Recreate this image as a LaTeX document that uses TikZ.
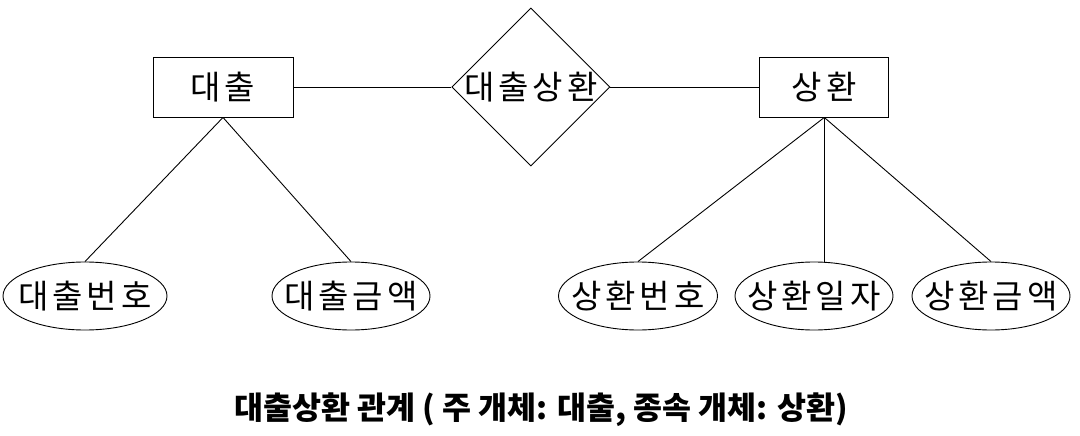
\documentclass[tikz,border=0pt]{standalone}
\usepackage{fontspec}
\setmainfont{Noto Sans CJK KR}
\usetikzlibrary{positioning,shapes.geometric}

\begin{document}
\begin{tikzpicture}[
  x=1pt, y=-1pt,
  font=\fontsize{33}{36}\selectfont\addfontfeature{LetterSpace=12},
  line width=0.9pt,
  entity/.style={draw, rectangle, inner sep=0pt, minimum height=60pt},
  fixed/.style={execute at begin node={\hbox to 0pt\bgroup\hss}, execute at end node={\hss\egroup}},
  relation/.style={draw, diamond, inner sep=0pt, minimum width=158pt, minimum height=158pt, fixed},
  attr/.style={draw, ellipse, inner sep=0pt, minimum width=159pt, minimum height=68pt, fixed},
  conn/.style={draw}
]
\useasboundingbox (0,0) rectangle (1080,436);
% entities and relationship
\node[entity, minimum width=140pt] (loan) at (223,87) {대출};
\node[relation, right=158pt of loan] (loanrepay) {대출상환};
\node[entity, minimum width=129pt, right=149pt of loanrepay] (repay) {상환};
% attributes
\node[attr, minimum width=164pt] (loanno) at (85,296) {대출번호};
\node[attr, minimum width=158pt] (loanamt) at (351,296) {대출금액};
\node[attr] (repayno) at (638,296) {상환번호};
\node[attr, minimum width=158pt] (repaydate) at (814,296) {상환일자};
\node[attr, minimum width=158pt] (repayamt) at (991,296) {상환금액};
% caption
\node[font=\fontsize{31.5}{34}\selectfont\bfseries] (caption) at (541,410) {대출상환 관계 ( 주 개체: 대출, 종속 개체: 상환)};
% connectors
\draw (loan) -- (loanrepay);
\draw (loanrepay) -- (repay);
\draw (loan.south) -- (loanno.north);
\draw (loan.south) -- (loanamt.north);
\draw (repay.south) -- (repayno.north);
\draw (repay.south) -- (repay.south |- repaydate.north);
\draw (repay.south) -- (repayamt.north);
\end{tikzpicture}
\end{document}
